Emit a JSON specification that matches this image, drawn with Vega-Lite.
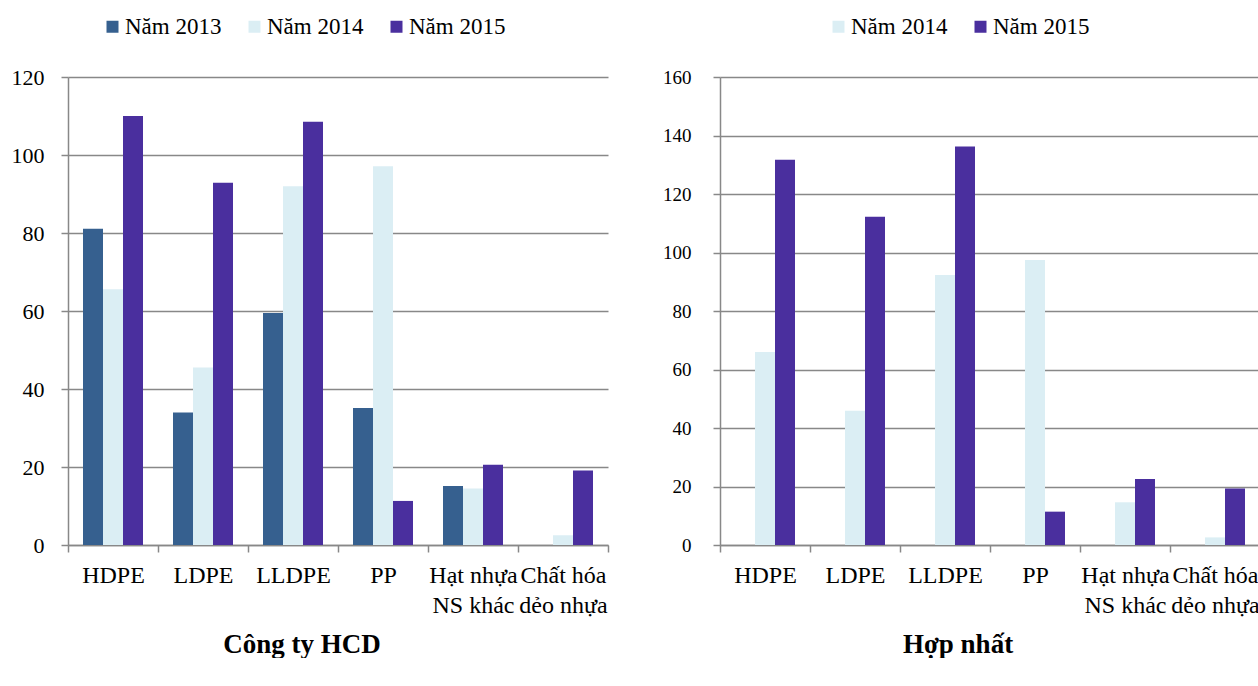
{
  "$schema": "https://vega.github.io/schema/vega-lite/v6.json",
  "background": "white",
  "padding": {"left": 11, "top": 15, "right": 0, "bottom": 0},
  "config": {
    "font": "Liberation Serif",
    "view": {"stroke": null},
    "axis": {
      "labelFont": "Liberation Serif",
      "labelColor": "black",
      "domainColor": "#888888",
      "domainWidth": 1.5,
      "tickColor": "#888888",
      "tickWidth": 1.5,
      "gridColor": "#888888",
      "gridWidth": 1.5,
      "title": null
    },
    "legend": {
      "labelFont": "Liberation Serif",
      "labelFontSize": 23,
      "labelColor": "black",
      "symbolType": "square",
      "symbolSize": 144,
      "symbolStrokeWidth": 0,
      "columnPadding": 21,
      "labelOffset": 1,
      "padding": 0,
      "title": null
    },
    "title": {"font": "Liberation Serif", "fontSize": 27, "fontWeight": "bold", "color": "black"},
    "concat": {"spacing": 53}
  },
  "datasets": {
    "hcd": [
      {"loai": "HDPE", "nam": "Năm 2013", "giatri": 81.1},
      {"loai": "HDPE", "nam": "Năm 2014", "giatri": 65.6},
      {"loai": "HDPE", "nam": "Năm 2015", "giatri": 110.0},
      {"loai": "LDPE", "nam": "Năm 2013", "giatri": 34.0},
      {"loai": "LDPE", "nam": "Năm 2014", "giatri": 45.5},
      {"loai": "LDPE", "nam": "Năm 2015", "giatri": 92.9},
      {"loai": "LLDPE", "nam": "Năm 2013", "giatri": 59.5},
      {"loai": "LLDPE", "nam": "Năm 2014", "giatri": 92.0},
      {"loai": "LLDPE", "nam": "Năm 2015", "giatri": 108.5},
      {"loai": "PP", "nam": "Năm 2013", "giatri": 35.1},
      {"loai": "PP", "nam": "Năm 2014", "giatri": 97.1},
      {"loai": "PP", "nam": "Năm 2015", "giatri": 11.3},
      {"loai": "Hạt nhựa NS khác", "nam": "Năm 2013", "giatri": 15.1},
      {"loai": "Hạt nhựa NS khác", "nam": "Năm 2014", "giatri": 14.5},
      {"loai": "Hạt nhựa NS khác", "nam": "Năm 2015", "giatri": 20.6},
      {"loai": "Chất hóa dẻo nhựa", "nam": "Năm 2014", "giatri": 2.5},
      {"loai": "Chất hóa dẻo nhựa", "nam": "Năm 2015", "giatri": 19.1}
    ],
    "hopnhat": [
      {"loai": "HDPE", "nam": "Năm 2014", "giatri": 66.0},
      {"loai": "HDPE", "nam": "Năm 2015", "giatri": 131.7},
      {"loai": "LDPE", "nam": "Năm 2014", "giatri": 45.9},
      {"loai": "LDPE", "nam": "Năm 2015", "giatri": 112.2},
      {"loai": "LLDPE", "nam": "Năm 2014", "giatri": 92.3},
      {"loai": "LLDPE", "nam": "Năm 2015", "giatri": 136.2},
      {"loai": "PP", "nam": "Năm 2014", "giatri": 97.4},
      {"loai": "PP", "nam": "Năm 2015", "giatri": 11.4},
      {"loai": "Hạt nhựa NS khác", "nam": "Năm 2014", "giatri": 14.6},
      {"loai": "Hạt nhựa NS khác", "nam": "Năm 2015", "giatri": 22.6},
      {"loai": "Chất hóa dẻo nhựa", "nam": "Năm 2014", "giatri": 2.6},
      {"loai": "Chất hóa dẻo nhựa", "nam": "Năm 2015", "giatri": 19.3}
    ]
  },
  "hconcat": [
    {
      "data": {"name": "hcd"},
      "width": 540,
      "height": 468,
      "title": {"text": "Công ty HCD", "orient": "bottom", "anchor": "middle", "offset": 15, "dx": -36},
      "mark": {"type": "bar"},
      "encoding": {
        "x": {
          "field": "loai", "type": "nominal",
          "sort": ["HDPE", "LDPE", "LLDPE", "PP", "Hạt nhựa NS khác", "Chất hóa dẻo nhựa"],
          "scale": {"paddingInner": 0, "paddingOuter": 0},
          "axis": {
            "labelAngle": 0, "tickBand": "extent", "tickSize": 7, "labelPadding": 11,
            "labelFontSize": 24, "labelLineHeight": 30, "grid": false,
            "labelExpr": "datum.value == 'Hạt nhựa NS khác' ? ['Hạt nhựa', 'NS khác'] : datum.value == 'Chất hóa dẻo nhựa' ? ['Chất hóa', 'dẻo nhựa'] : datum.value"
          }
        },
        "xOffset": {
          "field": "nam", "type": "nominal",
          "scale": {"domain": ["Năm 2013", "Năm 2014", "Năm 2015"], "paddingInner": 0, "paddingOuter": 0.75}
        },
        "y": {
          "field": "giatri", "type": "quantitative",
          "scale": {"domain": [0, 120], "nice": false},
          "axis": {"values": [0, 20, 40, 60, 80, 100, 120], "grid": true, "tickSize": 7, "labelPadding": 17, "labelFontSize": 22}
        },
        "color": {
          "field": "nam", "type": "nominal",
          "scale": {"domain": ["Năm 2013", "Năm 2014", "Năm 2015"], "range": ["#36608f", "#dbeef4", "#4a2f9e"]},
          "legend": {"orient": "none", "direction": "horizontal", "legendX": 33, "legendY": -62}
        }
      }
    },
    {
      "data": {"name": "hopnhat"},
      "width": 540,
      "height": 468,
      "title": {"text": "Hợp nhất", "orient": "bottom", "anchor": "middle", "offset": 15, "dx": -32},
      "mark": {"type": "bar"},
      "encoding": {
        "x": {
          "field": "loai", "type": "nominal",
          "sort": ["HDPE", "LDPE", "LLDPE", "PP", "Hạt nhựa NS khác", "Chất hóa dẻo nhựa"],
          "scale": {"paddingInner": 0, "paddingOuter": 0},
          "axis": {
            "labelAngle": 0, "tickBand": "extent", "tickSize": 7, "labelPadding": 11,
            "labelFontSize": 24, "labelLineHeight": 30, "grid": false,
            "labelExpr": "datum.value == 'Hạt nhựa NS khác' ? ['Hạt nhựa', 'NS khác'] : datum.value == 'Chất hóa dẻo nhựa' ? ['Chất hóa', 'dẻo nhựa'] : datum.value"
          }
        },
        "xOffset": {
          "field": "nam", "type": "nominal",
          "scale": {"domain": ["Năm 2013", "Năm 2014", "Năm 2015"], "paddingInner": 0, "paddingOuter": 0.75}
        },
        "y": {
          "field": "giatri", "type": "quantitative",
          "scale": {"domain": [0, 160], "nice": false},
          "axis": {"values": [0, 20, 40, 60, 80, 100, 120, 140, 160], "grid": true, "tickSize": 7, "labelPadding": 22, "labelFontSize": 19}
        },
        "color": {
          "field": "nam", "type": "nominal",
          "scale": {"domain": ["Năm 2014", "Năm 2015"], "range": ["#dbeef4", "#4a2f9e"]},
          "legend": {"orient": "none", "direction": "horizontal", "legendX": 107, "legendY": -62}
        }
      }
    }
  ],
  "resolve": {
    "scale": {"color": "independent", "x": "independent", "y": "independent", "xOffset": "independent"},
    "legend": {"color": "independent"}
  }
}
